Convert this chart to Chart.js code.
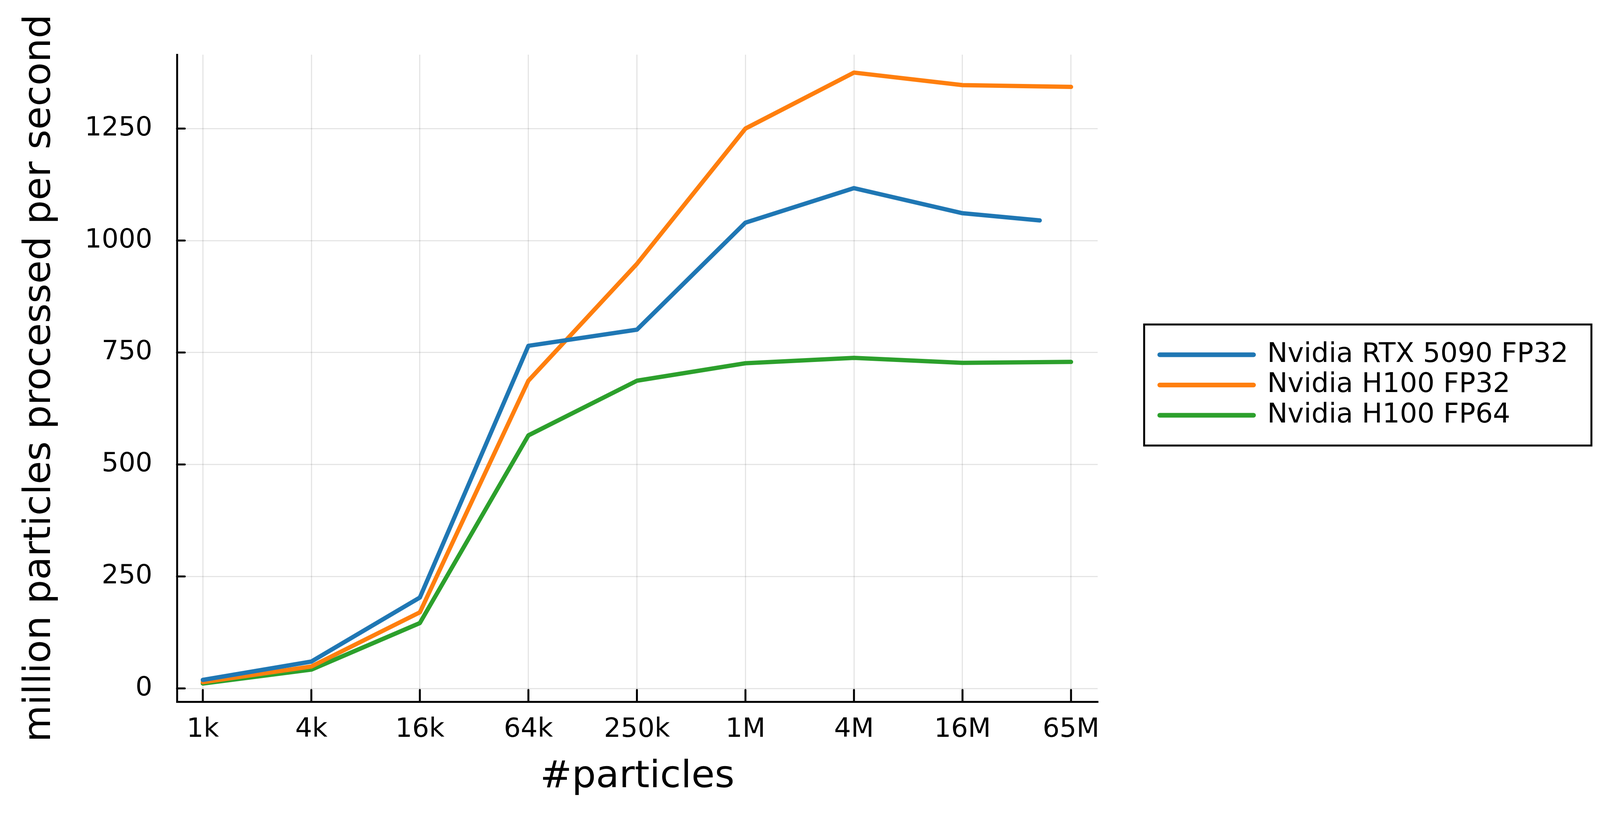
<!DOCTYPE html>
<html>
<head>
<meta charset="utf-8">
<script src="https://cdn.jsdelivr.net/npm/chart.js@4/dist/chart.umd.min.js"></script>
<style>
  html, body { margin: 0; padding: 0; background: #fff; }
  #chart { display: block; }
</style>
</head>
<body>
<canvas id="chart" width="4200" height="2100"></canvas>
<script>
"use strict";
// particle counts (2^10 .. 2^26) and their tick labels
const particleCounts = [1024, 4096, 16384, 65536, 262144, 1048576, 4194304, 16777216, 67108864];
const tickLabels = ["1k", "4k", "16k", "64k", "250k", "1M", "4M", "16M", "65M"];
// the RTX run stops before 65M
const rtxParticles = [1024, 4096, 16384, 65536, 262144, 1048576, 4194304, 16777216, 45000000];

const rtx5090Fp32 = [19, 60, 203, 765, 801, 1040, 1117, 1061, 1045];
const h100Fp32 = [14, 49, 170, 687, 948, 1250, 1375, 1347, 1343];
const h100Fp64 = [11, 42, 146, 565, 687, 726, 738, 727, 729];

const seriesLabels = ["Nvidia RTX 5090 FP32", "Nvidia H100 FP32", "Nvidia H100 FP64"];
const seriesColors = ["#1f77b4", "#ff7f0e", "#2ca02c"];
const yTicks = [0, 250, 500, 750, 1000, 1250];

const FONT = "'DejaVu Sans', sans-serif";

const toPoints = (xs, ys) => ys.map((y, i) => ({ x: xs[i], y: y }));

const makeSet = (label, color, xs, ys) => ({
  label: label,
  data: toPoints(xs, ys),
  borderColor: color,
  backgroundColor: color,
  borderWidth: 11,
  borderCapStyle: "round",
  borderJoinStyle: "round",
  pointRadius: 0,
  tension: 0,
});

// tick marks pointing into the plot, like the original
const innerTicks = {
  id: "innerTicks",
  beforeDatasetsDraw(chart) {
    const { ctx, chartArea, scales } = chart;
    ctx.save();
    ctx.strokeStyle = "#000";
    ctx.lineWidth = 5;
    ctx.lineCap = "round";
    particleCounts.forEach((n) => {
      const x = scales.x.getPixelForValue(n);
      ctx.beginPath();
      ctx.moveTo(x, chartArea.bottom);
      ctx.lineTo(x, chartArea.bottom - 30);
      ctx.stroke();
    });
    yTicks.forEach((v) => {
      const y = scales.y.getPixelForValue(v);
      ctx.beginPath();
      ctx.moveTo(chartArea.left, y);
      ctx.lineTo(chartArea.left + 20, y);
      ctx.stroke();
    });
    ctx.restore();
  },
};

// boxed legend to the right of the plot
const boxLegend = {
  id: "boxLegend",
  afterDraw(chart) {
    const { ctx } = chart;
    const box = { x: 2929, y: 831, w: 1145, h: 310 };
    const rowGap = 77.5;
    ctx.save();
    ctx.fillStyle = "#fff";
    ctx.fillRect(box.x, box.y, box.w, box.h);
    ctx.strokeStyle = "#000";
    ctx.lineWidth = 5;
    ctx.strokeRect(box.x, box.y, box.w, box.h);
    const n = chart.data.datasets.length;
    const firstY = box.y + box.h / 2 - ((n - 1) * rowGap) / 2;
    chart.data.datasets.forEach((ds, i) => {
      const y = firstY + i * rowGap;
      ctx.strokeStyle = ds.borderColor;
      ctx.lineWidth = 12;
      ctx.lineCap = "round";
      ctx.beginPath();
      ctx.moveTo(box.x + 40, y);
      ctx.lineTo(box.x + 280, y);
      ctx.stroke();
      ctx.fillStyle = "#000";
      ctx.font = "70px " + FONT;
      ctx.textAlign = "left";
      ctx.textBaseline = "middle";
      ctx.fillText(ds.label, box.x + 315, y);
    });
    ctx.restore();
  },
};

const config = {
  type: "line",
  data: {
    datasets: [
      makeSet(seriesLabels[0], seriesColors[0], rtxParticles, rtx5090Fp32),
      makeSet(seriesLabels[1], seriesColors[1], particleCounts, h100Fp32),
      makeSet(seriesLabels[2], seriesColors[2], particleCounts, h100Fp64),
    ],
  },
  options: {
    responsive: false,
    devicePixelRatio: 1,
    animation: false,
    layout: { padding: { left: 0, top: 140, right: 1390, bottom: 0 } },
    plugins: {
      legend: { display: false },
      tooltip: { enabled: false },
    },
    scales: {
      x: {
        type: "logarithmic",
        min: 736,
        max: 94300000,
        afterBuildTicks: (scale) => {
          scale.ticks = particleCounts.map((v) => ({ value: v }));
        },
        afterFit: (scale) => {
          scale.height = 303;
        },
        ticks: {
          autoSkip: false,
          maxRotation: 0,
          padding: 32,
          color: "#000",
          font: { family: FONT, size: 68 },
          callback: (value, index) => tickLabels[index],
        },
        grid: { color: "rgba(0,0,0,0.1)", lineWidth: 3, drawTicks: false },
        border: { display: true, color: "#000", width: 5 },
        title: {
          display: true,
          text: "#particles",
          color: "#000",
          font: { family: FONT, size: 97 },
          padding: { top: 0, bottom: 51 },
        },
      },
      y: {
        type: "linear",
        min: -29.6,
        max: 1415,
        afterBuildTicks: (scale) => {
          scale.ticks = yTicks.map((v) => ({ value: v }));
        },
        afterFit: (scale) => {
          scale.width = 453;
        },
        ticks: {
          padding: 63,
          color: "#000",
          font: { family: FONT, size: 68 },
          callback: (value) => String(value),
        },
        grid: { color: "rgba(0,0,0,0.1)", lineWidth: 3, drawTicks: false },
        border: { display: true, color: "#000", width: 5 },
        title: {
          display: true,
          text: "million particles processed per second",
          color: "#000",
          font: { family: FONT, size: 97 },
          padding: { top: 45, bottom: 0 },
        },
      },
    },
  },
  plugins: [innerTicks, boxLegend],
};

const perfChart = new Chart(document.getElementById("chart"), config);
</script>
</body>
</html>
